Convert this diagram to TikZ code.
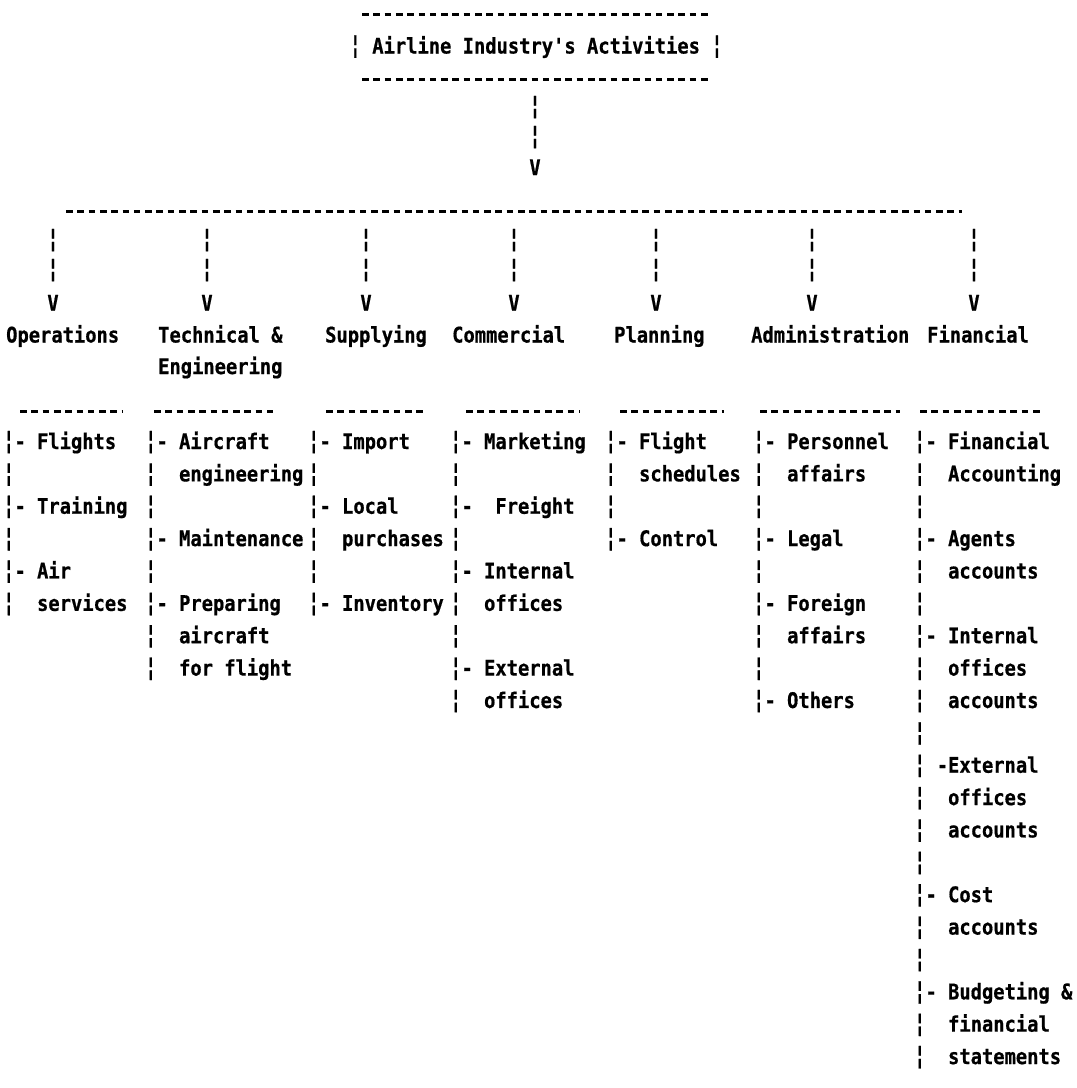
\documentclass[tikz,border=0pt]{standalone}
\usepackage{fontspec}
\usepackage{graphicx}
\setmonofont{DejaVu Sans Mono}[FakeStretch=0.873, BoldFeatures={FakeBold=0.6}]
% taller broken bar, as the typewriter prints it
\newcommand\brk{\scalebox{1}[1.2]{¦}}
\begin{document}
\begin{tikzpicture}[x=1pt,y=-1pt,
  typed/.style={font=\ttfamily\bfseries\fontsize{21.5}{21.5}\selectfont, inner sep=0pt, anchor=base west},
  arrowch/.style={typed, anchor=base},
  rule/.style={line width=3pt, dash pattern=on 6.6pt off 4.7pt}]
\useasboundingbox (0,0) rectangle (1077,1088);

% ---- title box ----
\coordinate (tl) at (362,14);  \coordinate (tr) at (708,14);
\coordinate (bl) at (362,79);  \coordinate (br) at (708,79);
\draw[rule] (tl) -- (tr);
\draw[rule] (bl) -- (br);
\node[typed] (title) at (349.5,53.5) {\brk{} Airline Industry's Activities \brk};

% ---- stem down to the branch line ----
\node[arrowch] (s1) at (535,114) {\brk};
\node[arrowch] (s2) at (535,144) {\brk};
\node[arrowch] (s3) at (535,175) {V};

% ---- branch line ----
\coordinate (bra) at (66,211); \coordinate (brb) at (962,211);
\draw[rule] (bra) -- (brb);

% ---- drops to each activity ----
\foreach \k/\x in {1/53,2/207,3/366,4/514,5/656,6/812,7/974}{
  \node[arrowch] (d\k a) at (\x,247) {\brk};
  \node[arrowch] (d\k b) at (\x,277) {\brk};
  \node[arrowch] (d\k v) at (\x,310.5) {V};
}

% ---- activity names ----
\node[typed] (ops)  at (6,342.5)   {Operations};
\node[typed] (tech) at (158,342.5) {Technical \&};
\node[typed] (eng)  at (158,374)   {Engineering};
\node[typed] (sup)  at (325,342.5) {Supplying};
\node[typed] (com)  at (452,342.5) {Commercial};
\node[typed] (pla)  at (614,342.5) {Planning};
\node[typed] (adm)  at (751,342.5) {Administration};
\node[typed] (fin)  at (927,342.5) {Financial};

% ---- underlines ----
\foreach \n/\a/\b in {u1/20/122,u2/154/273,u3/326/426,u4/466/580,u5/620/724,u6/760/900,u7/920/1040}{
  \coordinate (\n s) at (\a,411); \coordinate (\n e) at (\b,411);
  \draw[rule] (\n s) -- (\n e);
}

% ---- sub-activity lists ----
\foreach \r/\t in {13/{\brk- Flights},14/{\brk},15/{\brk- Training},16/{\brk},17/{\brk- Air},18/{\brk~~services}}
  \node[typed] (opsl\r) at (3,{449+(\r-13)*32.37}) {\t};

\foreach \r/\t in {13/{\brk- Aircraft},14/{\brk~~engineering},15/{\brk},16/{\brk- Maintenance},17/{\brk},
                   18/{\brk- Preparing},19/{\brk~~aircraft},20/{\brk~~for flight}}
  \node[typed] (techl\r) at (145,{449+(\r-13)*32.37}) {\t};

\foreach \r/\t in {13/{\brk- Import},14/{\brk},15/{\brk- Local},16/{\brk~~purchases},17/{\brk},18/{\brk- Inventory}}
  \node[typed] (supl\r) at (308,{449+(\r-13)*32.37}) {\t};

\foreach \r/\t in {13/{\brk- Marketing},14/{\brk},15/{\brk-~~Freight},16/{\brk},17/{\brk- Internal},
                   18/{\brk~~offices},19/{\brk},20/{\brk- External},21/{\brk~~offices}}
  \node[typed] (coml\r) at (450,{449+(\r-13)*32.37}) {\t};

\foreach \r/\t in {13/{\brk- Flight},14/{\brk~~schedules},15/{\brk},16/{\brk- Control}}
  \node[typed] (plal\r) at (605,{449+(\r-13)*32.37}) {\t};

\foreach \r/\t in {13/{\brk- Personnel},14/{\brk~~affairs},15/{\brk},16/{\brk- Legal},17/{\brk},
                   18/{\brk- Foreign},19/{\brk~~affairs},20/{\brk},21/{\brk- Others}}
  \node[typed] (adml\r) at (753,{449+(\r-13)*32.37}) {\t};

\foreach \r/\t in {13/{\brk- Financial},14/{\brk~~Accounting},15/{\brk},16/{\brk- Agents},17/{\brk~~accounts},
                   18/{\brk},19/{\brk- Internal},20/{\brk~~offices},21/{\brk~~accounts},22/{\brk},
                   23/{\brk{} -External},24/{\brk~~offices},25/{\brk~~accounts},26/{\brk},27/{\brk- Cost},
                   28/{\brk~~accounts},29/{\brk},30/{\brk- Budgeting \&},31/{\brk~~financial},32/{\brk~~statements}}
  \node[typed] (finl\r) at (914,{449+(\r-13)*32.37}) {\t};
\end{tikzpicture}
\end{document}
